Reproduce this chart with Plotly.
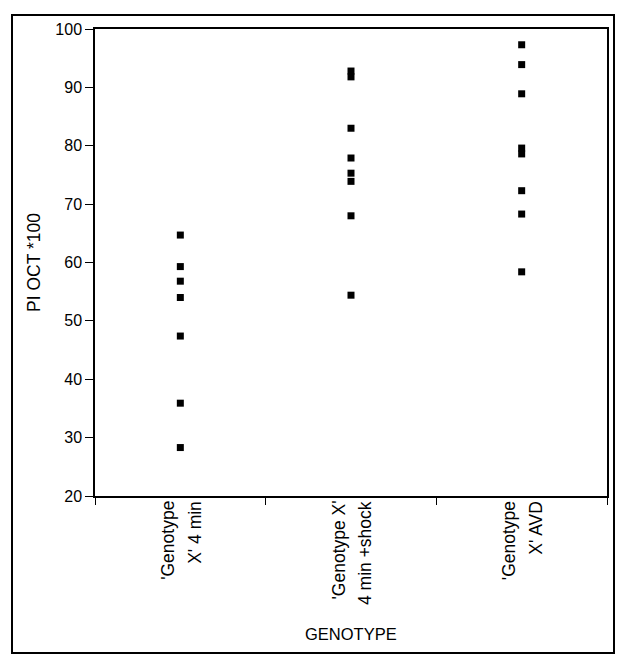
import plotly.graph_objects as go

categories = ["'Genotype X' 4 min", "'Genotype X' 4 min +shock", "'Genotype X' AVD"]
label_line1 = ["'Genotype", "'Genotype X'", "'Genotype"]
label_line2 = ["X' 4 min", "4 min +shock", "X' AVD"]
values_4min = [64.7, 59.3, 56.8, 54.0, 47.4, 35.9, 28.3]
values_shock = [92.8, 91.8, 83.0, 77.9, 75.3, 73.9, 68.0, 54.4]
values_avd = [97.3, 93.9, 88.9, 79.6, 78.6, 72.3, 68.3, 58.4]
y_ticks = [20, 30, 40, 50, 60, 70, 80, 90, 100]

# page has an 8px body margin; figure is sized to fill the rest of the window
OFF = 8
W, H = 628 - OFF, 664 - OFF
L, T = 95 - OFF, 29 - OFF
R = W - (607 - OFF)
B = H - (496 - OFF)
FONT = "Liberation Sans, Arial, sans-serif"

fig = go.Figure()
for cat, vals in zip(categories, [values_4min, values_shock, values_avd]):
    fig.add_trace(go.Scatter(
        x=[cat] * len(vals), y=vals, mode="markers",
        marker=dict(symbol="square", size=7, color="black", line=dict(width=0)),
        showlegend=False, hoverinfo="y"))

pw, ph = W - L - R, H - T - B
def px_x(p):
    return (p - OFF - L) / pw
def px_y(p):
    return (H - B - (p - OFF)) / ph

shapes = [dict(type="rect", xref="paper", yref="paper",
               x0=px_x(12), x1=px_x(614), y0=px_y(653), y1=px_y(15),
               line=dict(color="black", width=2), fillcolor="rgba(0,0,0,0)", layer="above")]

annotations = []
for cat, l1, l2 in zip(categories, label_line1, label_line2):
    for txt, sh in ((l1, -13), (l2, 14)):
        annotations.append(dict(x=cat, xref="x", y=0, yref="paper", text=txt,
                                textangle=-90, showarrow=False, xanchor="center",
                                yanchor="top", xshift=sh, yshift=-3,
                                font=dict(family=FONT, size=17.5, color="black")))
annotations.append(dict(x=0.5, xref="paper", y=px_y(634), yref="paper", text="GENOTYPE",
                        showarrow=False, xanchor="center", yanchor="middle",
                        font=dict(family=FONT, size=16.5, color="black")))

fig.update_layout(
    width=W, height=H, margin=dict(l=L, r=R, t=T, b=B, autoexpand=False),
    paper_bgcolor="white", plot_bgcolor="white",
    font=dict(family=FONT, size=16, color="black"),
    xaxis=dict(type="category", categoryorder="array", categoryarray=categories,
               range=[-0.5, 2.5], showgrid=False, zeroline=False,
               showline=True, linecolor="black", linewidth=1.5, mirror=True,
               ticks="outside", tickson="boundaries", ticklen=7, tickcolor="black",
               showticklabels=False),
    yaxis=dict(range=[20, 100], tickvals=y_ticks, showgrid=False, zeroline=False,
               showline=True, linecolor="black", linewidth=1.5, mirror=True,
               ticks="outside", ticklen=8, tickcolor="black", tickwidth=1,
               tickfont=dict(family=FONT, size=16, color="black"),
               title=dict(text="PI OCT *100", standoff=10,
                          font=dict(family=FONT, size=17.5, color="black"))),
    shapes=shapes, annotations=annotations,
)

fig.write_html("out.html")
